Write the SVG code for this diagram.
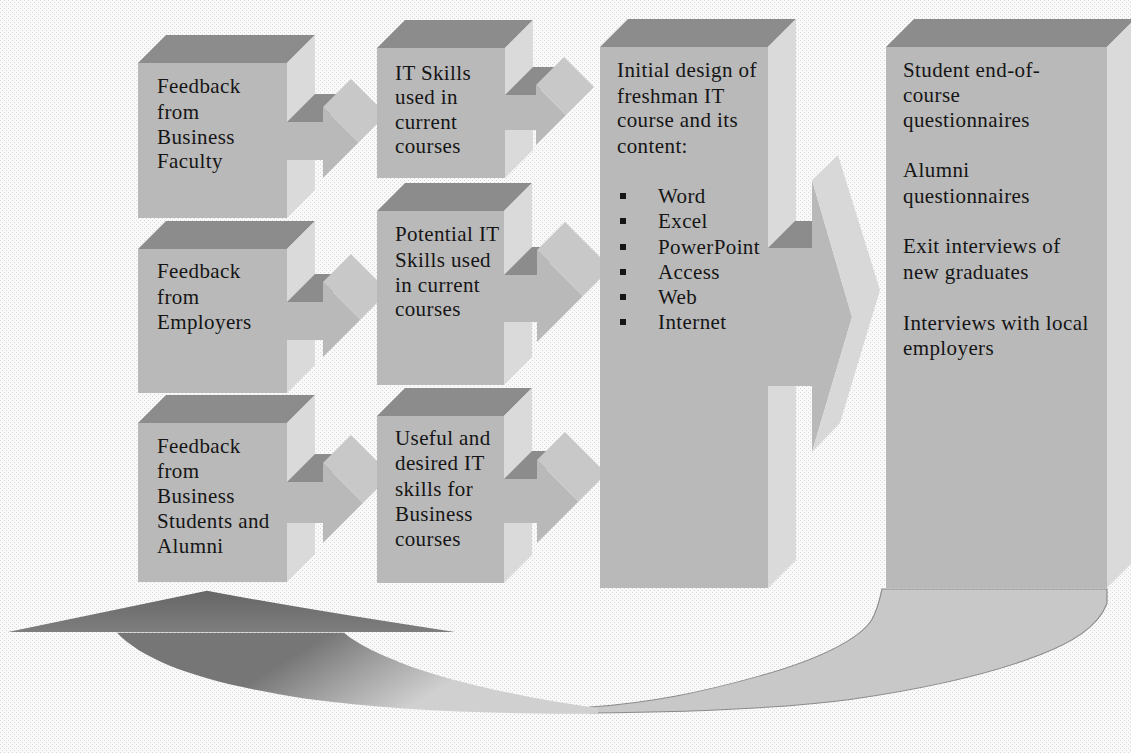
<svg xmlns="http://www.w3.org/2000/svg" width="1131" height="753" viewBox="0 0 1131 753">
<defs>
<pattern id="bg" width="4" height="4" patternUnits="userSpaceOnUse">
<rect width="4" height="4" fill="#f9f9f9"/>
<rect x="0" y="0" width="1" height="1" fill="#d9d9d9"/>
<rect x="2" y="2" width="1" height="1" fill="#d9d9d9"/>
</pattern>
<clipPath id="clipA"><rect x="0" y="0" width="377" height="753"/></clipPath>
<clipPath id="clipB"><rect x="0" y="0" width="600" height="753"/></clipPath>
<linearGradient id="headGrad" gradientUnits="userSpaceOnUse" x1="0" y1="591" x2="0" y2="640">
<stop offset="0" stop-color="#666666"/>
<stop offset="1" stop-color="#7e7e7e"/>
</linearGradient>
<linearGradient id="bandGrad" gradientUnits="userSpaceOnUse" x1="330" y1="641" x2="400" y2="737">
<stop offset="0" stop-color="#767676"/>
<stop offset="0.45" stop-color="#a0a0a0"/>
<stop offset="1" stop-color="#d0d0d0"/>
</linearGradient>
<style>
.front{fill:#b9b9b9}
.top{fill:#8c8c8c}
.side{fill:#dadada}
.htop{fill:#c8c8c8}
.hside{fill:#d8d8d8}
.band{fill:#c8c8c8;stroke:#8a8a8a;stroke-width:1.2}
text{font-family:"Liberation Serif","Times New Roman",serif;font-size:21px;letter-spacing:0.4px;fill:#151515}
.bul{fill:#151515}
</style>
</defs>
<rect width="1131" height="753" fill="url(#bg)"/>

<g id="node-business-faculty">
<polygon class="top" points="138,63 166,35 315,35 287,63"/>
<polygon class="side" points="287,63 315,35 315,190 287,218"/>
<rect class="front" x="138" y="63" width="149" height="155"/>
<text x="157" y="93">Feedback</text>
<text x="157" y="119">from</text>
<text x="157" y="144">Business</text>
<text x="157" y="168">Faculty</text>
</g>

<g id="node-employers">
<polygon class="top" points="138,249 166,221 315,221 287,249"/>
<polygon class="side" points="287,249 315,221 315,365 287,393"/>
<rect class="front" x="138" y="249" width="149" height="144"/>
<text x="157" y="278">Feedback</text>
<text x="157" y="304">from</text>
<text x="157" y="329">Employers</text>
</g>

<g id="node-students-alumni">
<polygon class="top" points="138,423 166,395 315,395 287,423"/>
<polygon class="side" points="287,423 315,395 315,554 287,582"/>
<rect class="front" x="138" y="423" width="149" height="159"/>
<text x="157" y="453">Feedback</text>
<text x="157" y="478">from</text>
<text x="157" y="503">Business</text>
<text x="157" y="528">Students and</text>
<text x="157" y="553">Alumni</text>
</g>

<g id="node-it-skills-used">
<polygon class="top" points="377,48 405,20 533,20 505,48"/>
<polygon class="side" points="505,48 533,20 533,150 505,178"/>
<rect class="front" x="377" y="48" width="128" height="130"/>
<text x="395" y="80">IT Skills</text>
<text x="395" y="104">used in</text>
<text x="395" y="129">current</text>
<text x="395" y="153">courses</text>
</g>

<g id="node-potential-it-skills">
<polygon class="top" points="377,211 405,183 532,183 504,211"/>
<polygon class="side" points="504,211 532,183 532,357 504,385"/>
<rect class="front" x="377" y="211" width="127" height="174"/>
<text x="395" y="241">Potential IT</text>
<text x="395" y="267">Skills used</text>
<text x="395" y="292">in current</text>
<text x="395" y="316">courses</text>
</g>

<g id="node-useful-skills">
<polygon class="top" points="377,416 405,388 532,388 504,416"/>
<polygon class="side" points="504,416 532,388 532,555 504,583"/>
<rect class="front" x="377" y="416" width="127" height="167"/>
<text x="395" y="445">Useful and</text>
<text x="395" y="470">desired IT</text>
<text x="395" y="496">skills for</text>
<text x="395" y="521">Business</text>
<text x="395" y="546">courses</text>
</g>

<g id="node-initial-design">
<polygon class="top" points="600,47 628,19 796,19 768,47"/>
<polygon class="side" points="768,47 796,19 796,560 768,588"/>
<rect class="front" x="600" y="47" width="168" height="541"/>
<text x="617" y="77">Initial design of</text>
<text x="617" y="103">freshman IT</text>
<text x="617" y="127">course and its</text>
<text x="617" y="153">content:</text>
<rect class="bul" x="620" y="193" width="6" height="6"/>
<text x="658" y="203">Word</text>
<rect class="bul" x="620" y="218" width="6" height="6"/>
<text x="658" y="228">Excel</text>
<rect class="bul" x="620" y="244" width="6" height="6"/>
<text x="658" y="254">PowerPoint</text>
<rect class="bul" x="620" y="269" width="6" height="6"/>
<text x="658" y="279">Access</text>
<rect class="bul" x="620" y="294" width="6" height="6"/>
<text x="658" y="304">Web</text>
<rect class="bul" x="620" y="319" width="6" height="6"/>
<text x="658" y="329">Internet</text>
</g>

<g id="node-evaluation">
<polygon class="top" points="886,47 914,19 1135,19 1107,47"/>
<polygon class="side" points="1107,47 1135,19 1135,560 1107,588"/>
<rect class="front" x="886" y="47" width="221" height="541"/>
<text x="903" y="77">Student end-of-</text>
<text x="903" y="102">course</text>
<text x="903" y="127">questionnaires</text>
<text x="903" y="177">Alumni</text>
<text x="903" y="203">questionnaires</text>
<text x="903" y="253">Exit interviews of</text>
<text x="903" y="279">new graduates</text>
<text x="903" y="330">Interviews with local</text>
<text x="903" y="355">employers</text>
</g>

<g id="connectors">
<g clip-path="url(#clipA)">
<polygon class="top" points="287,122 315,94 351,94 323,122"/>
<rect class="front" x="287" y="122" width="37" height="38"/>
<polygon class="front" points="323,107 358.5,142.5 323,178"/>
<polygon class="htop" points="323,107 351,79 386.5,114.5 358.5,142.5"/>

<polygon class="top" points="287,302 315,274 351,274 323,302"/>
<rect class="front" x="287" y="302" width="37" height="38"/>
<polygon class="front" points="323,282 360.5,319.5 323,357"/>
<polygon class="htop" points="323,282 351,254 388.5,291.5 360.5,319.5"/>

<polygon class="top" points="287,482 315,454 351,454 323,482"/>
<rect class="front" x="287" y="482" width="37" height="41"/>
<polygon class="front" points="323,463 363,503 323,543"/>
<polygon class="htop" points="323,463 351,435 391,475 363,503"/>
</g>
<g clip-path="url(#clipB)">
<polygon class="top" points="505,95 533,67 564,67 536,95"/>
<rect class="front" x="505" y="95" width="32" height="35"/>
<polygon class="front" points="536,85 566,115 536,145"/>
<polygon class="htop" points="536,85 564,57 594,87 566,115"/>

<polygon class="top" points="504,275 532,247 565,247 537,275"/>
<rect class="front" x="504" y="275" width="34" height="47"/>
<polygon class="front" points="537,250 583,296 537,342"/>
<polygon class="htop" points="537,250 565,222 611,268 583,296"/>

<polygon class="top" points="504,479 532,451 565,451 537,479"/>
<rect class="front" x="504" y="479" width="34" height="44"/>
<polygon class="front" points="537,460 578.5,501.5 537,543"/>
<polygon class="htop" points="537,460 565,432 606.5,473.5 578.5,501.5"/>
</g>
<g id="big-arrow">
<polygon class="top" points="768,248 795,221 812,221 812,248"/>
<rect class="front" x="768" y="248" width="45" height="138"/>
<polygon class="front" points="812,180 852,317 812,452"/>
<polygon class="hside" points="812,180 838,155 880,290 840,423 812,452 852,317"/>
</g>
<g id="feedback-loop" transform="translate(0,589) scale(1,0.8435) translate(0,-589)">
<path class="band" d="M882,589 L1107,589 L1107,606 C1098,635 1070,653 1040,667 C990,690 920,708 850,720 C780,731 680,735 590,736 L590,729 C650,724 700,712 760,692 C820,672 860,648 872,625 C878,612 880,600 882,589 Z"/>
<path fill="url(#bandGrad)" d="M117,641 C145,675 200,700 306,719 C400,734 500,737 598,737 L598,730 C520,718 440,695 400,676 C370,662 355,652 344,641 Z"/>
<path fill="url(#headGrad)" d="M8,640 L207,591 Q300,612 455,640 Z"/>
</g>
</g>
</svg>
